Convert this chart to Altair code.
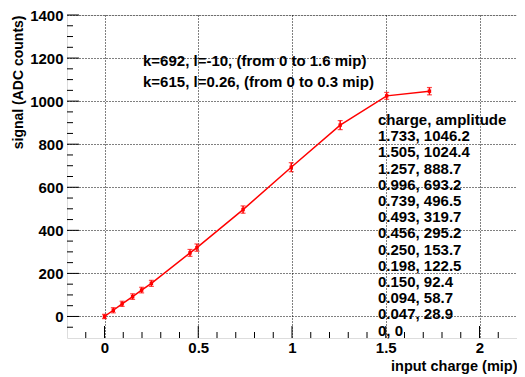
import altair as alt
import pandas as pd

# data
charge = [0.0, 0.047, 0.094, 0.150, 0.198, 0.250, 0.456, 0.493, 0.739, 0.996, 1.257, 1.505, 1.733]
amplitude = [0.0, 28.9, 58.7, 92.4, 122.5, 153.7, 295.2, 319.7, 496.5, 693.2, 888.7, 1024.4, 1046.2]
error = [10, 12, 12, 13, 13, 14, 16, 17, 17, 21, 21, 16, 17]

fit_lines = ["k=692, l=-10, (from 0 to 1.6 mip)", "k=615, l=0.26, (from 0 to 0.3 mip)"]
table_header = "charge, amplitude"

x_major = [0, 0.5, 1, 1.5, 2]
x_minor = [-0.1, 0.1, 0.2, 0.3, 0.4, 0.6, 0.7, 0.8, 0.9, 1.1, 1.2, 1.3, 1.4, 1.6, 1.7, 1.8, 1.9, 2.1]
y_major = [0, 200, 400, 600, 800, 1000, 1200, 1400]
y_minor = [-50, 50, 100, 150, 250, 300, 350, 450, 500, 550, 650, 700, 750, 850, 900, 950,
           1050, 1100, 1150, 1250, 1300, 1350]

FONT = "Liberation Sans"
W, H = 450, 323

df = pd.DataFrame({"charge": charge, "amplitude": amplitude, "err": error})
df["lo"] = df["amplitude"] - df["err"]
df["hi"] = df["amplitude"] + df["err"]


def fmt_c(v):
    return "0" if v == 0 else f"{v:.3f}"


def fmt_a(v):
    return "0" if v == 0 else f"{v:.1f}"


table_lines = [table_header] + [f"{fmt_c(c)}, {fmt_a(a)}" for c, a in
                                 sorted(zip(charge, amplitude), reverse=True)]

xs = alt.Scale(domain=[-0.2, 2.2], nice=False, zero=False)
ys = alt.Scale(domain=[-100, 1400], nice=False, zero=False)

base = alt.Chart(df)

line = base.mark_line(color="#ff0000", strokeWidth=1.5).encode(
    x=alt.X("charge:Q", scale=xs, axis=alt.Axis(
        values=x_major, format="~g", title="input charge (mip)",
        grid=True, gridDash=[1, 2], gridColor="#000000", gridOpacity=1, gridWidth=1,
        ticks=False, domain=False, labelFont=FONT, labelFontWeight="bold",
        labelFontSize=15, labelColor="#000", labelPadding=2,
        titleFont=FONT, titleFontWeight="bold", titleFontSize=14.5, titleColor="#000",
        titleX=W, titleY=32, titleAlign="right", titleBaseline="alphabetic")),
    y=alt.Y("amplitude:Q", scale=ys, axis=alt.Axis(
        values=y_major, format="d", title="signal (ADC counts)",
        grid=True, gridDash=[1, 2], gridColor="#000000", gridOpacity=1, gridWidth=1,
        ticks=False, domain=False, labelFont=FONT, labelFontWeight="bold",
        labelFontSize=15, labelColor="#000", labelPadding=4,
        titleFont=FONT, titleFontWeight="bold", titleFontSize=14, titleColor="#000",
        titleX=-49, titleY=0, titleAlign="right", titleBaseline="middle", titleAngle=270)),
    order="charge:Q",
)

bars = base.mark_rule(color="#ff0000", strokeWidth=1.5).encode(
    x="charge:Q", y="lo:Q", y2="hi:Q")
cap_lo = base.mark_tick(color="#ff0000", thickness=1.2, size=5, orient="horizontal").encode(
    x="charge:Q", y="lo:Q")
cap_hi = base.mark_tick(color="#ff0000", thickness=1.2, size=5, orient="horizontal").encode(
    x="charge:Q", y="hi:Q")
pts = base.mark_square(color="#ff0000", size=12, opacity=1).encode(
    x="charge:Q", y="amplitude:Q")

ymaj = alt.Chart(pd.DataFrame({"v": y_major})).mark_rule(color="#000", strokeWidth=1).encode(
    y=alt.Y("v:Q", scale=ys), x=alt.value(0), x2=alt.value(12))
ymin = alt.Chart(pd.DataFrame({"v": y_minor})).mark_rule(color="#000", strokeWidth=1).encode(
    y=alt.Y("v:Q", scale=ys), x=alt.value(0), x2=alt.value(6))
xmaj = alt.Chart(pd.DataFrame({"v": x_major})).mark_rule(color="#000", strokeWidth=1).encode(
    x=alt.X("v:Q", scale=xs), y=alt.value(H), y2=alt.value(H - 12))
xmin = alt.Chart(pd.DataFrame({"v": x_minor})).mark_rule(color="#000", strokeWidth=1).encode(
    x=alt.X("v:Q", scale=xs), y=alt.value(H), y2=alt.value(H - 6))

fit_text = alt.Chart(pd.DataFrame({"t": [0]})).mark_text(
    text=fit_lines, align="left", baseline="top", font=FONT, fontWeight="bold",
    fontSize=15, lineHeight=20.5, color="#000").encode(
    x=alt.value(76), y=alt.value(39))

table_text = alt.Chart(pd.DataFrame({"t": [0]})).mark_text(
    text=table_lines, align="left", baseline="top", font=FONT, fontWeight="bold",
    fontSize=15, lineHeight=16.2, color="#000").encode(
    x=alt.value(311), y=alt.value(98))

chart = alt.layer(line, ymaj, ymin, xmaj, xmin, bars, cap_lo, cap_hi, pts, fit_text, table_text).properties(
    width=W, height=H,
    autosize=alt.AutoSizeParams(type="none"),
    padding={"left": 59, "top": 7, "right": 0, "bottom": 36},
).configure_view(stroke="#000", strokeWidth=2).configure(background="white")

chart.save("out.html", embed_options={"renderer": "svg", "actions": False})
